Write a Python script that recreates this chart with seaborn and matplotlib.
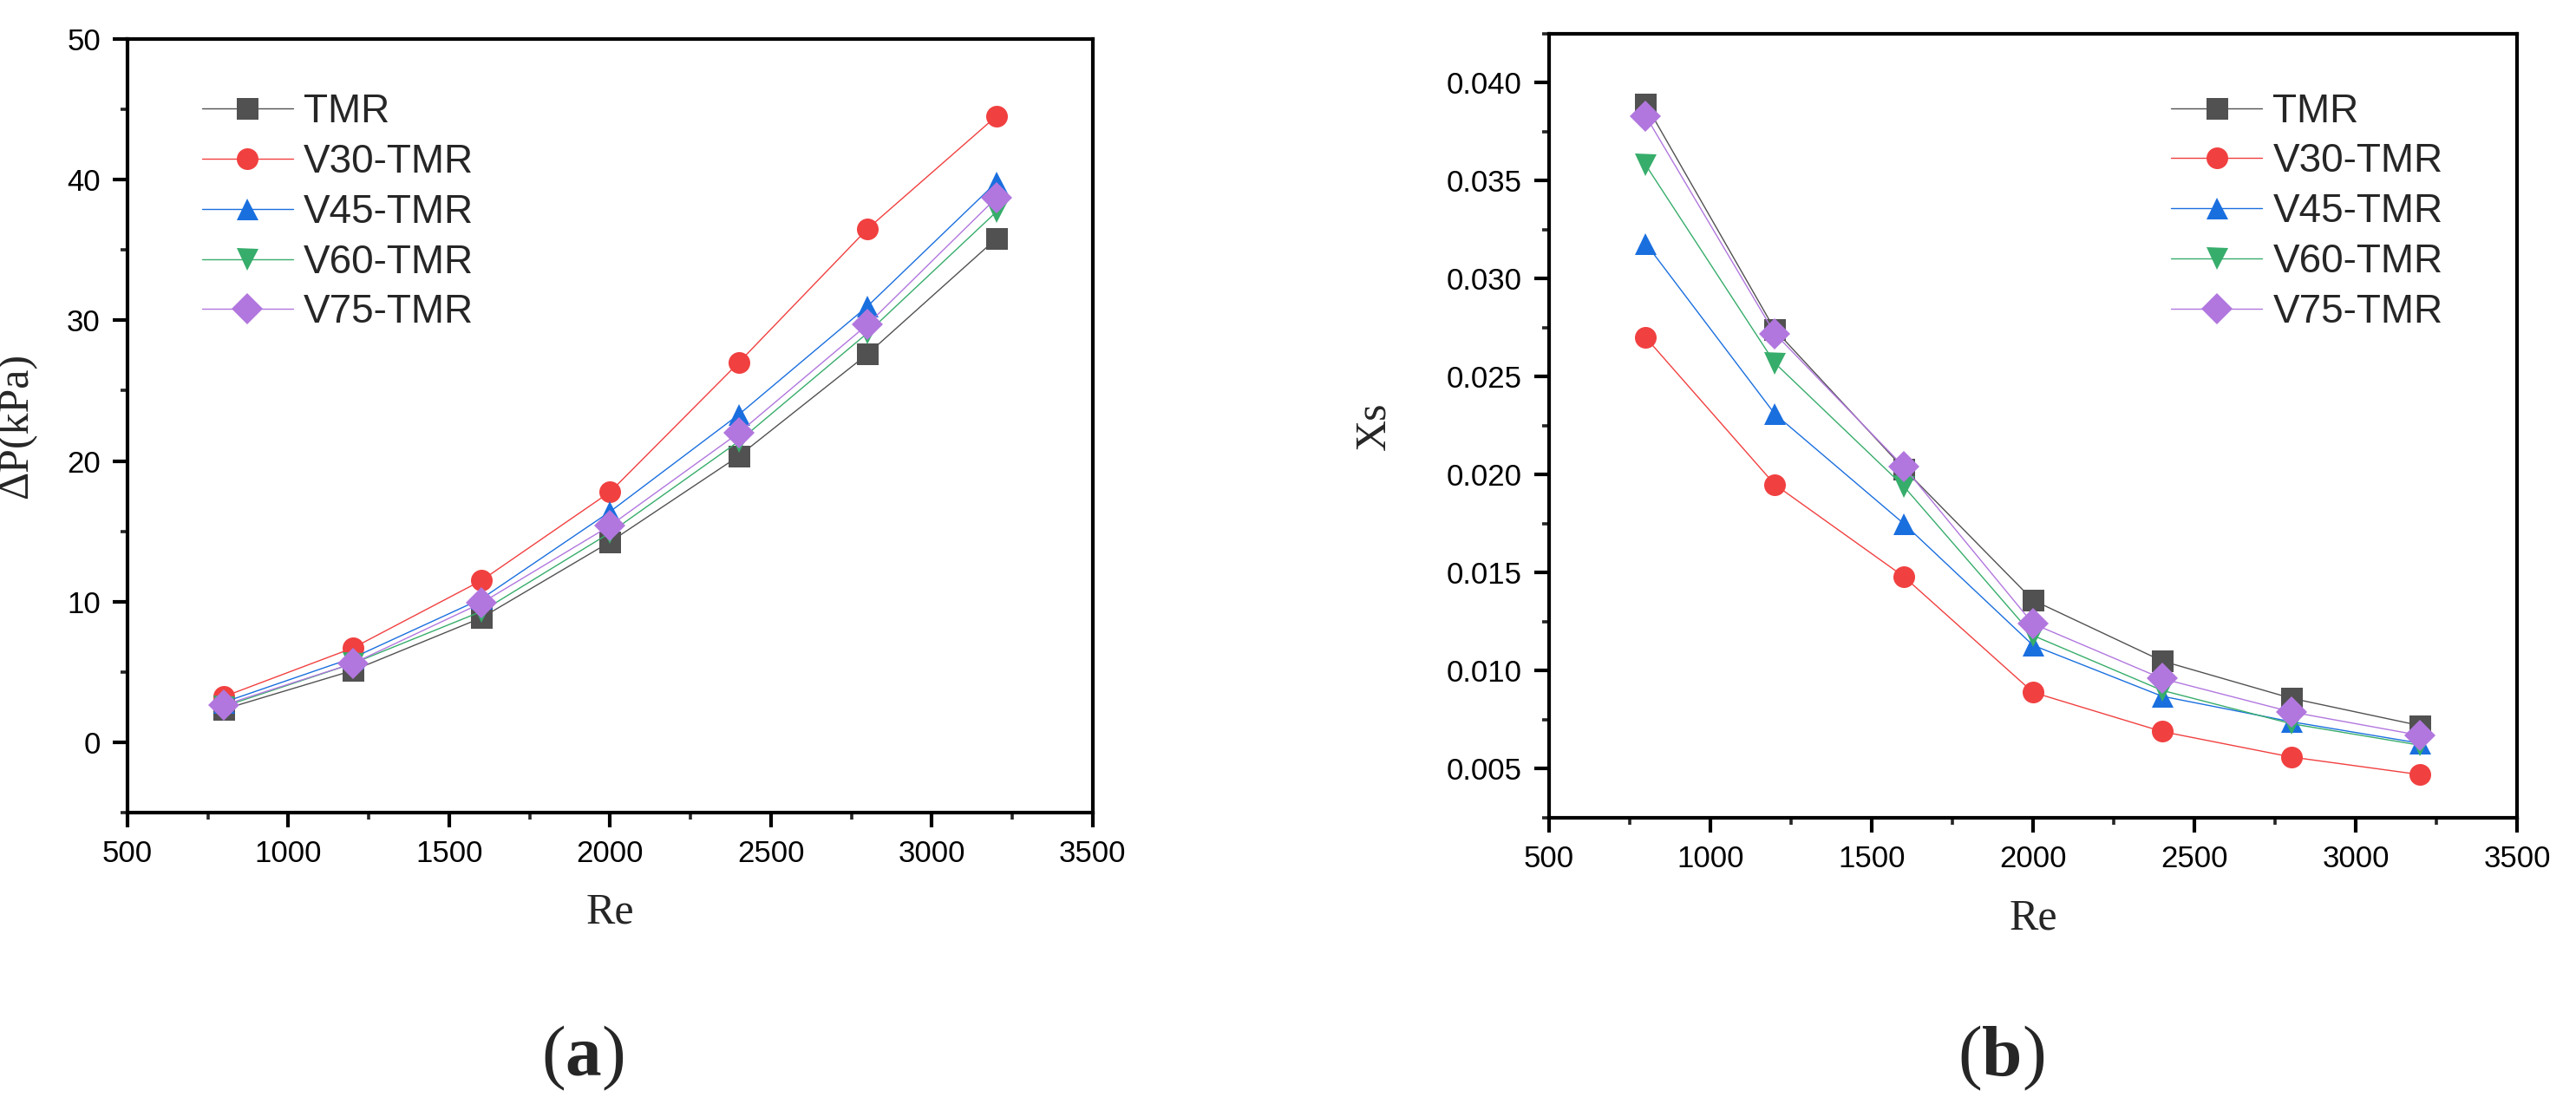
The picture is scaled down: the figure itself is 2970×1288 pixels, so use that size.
import numpy as np
import pandas as pd
import matplotlib
matplotlib.use("Agg")
import matplotlib.pyplot as plt
from matplotlib.ticker import MultipleLocator, FormatStrFormatter
import seaborn as sns

# ---------- Data ----------
re_vals = [800, 1200, 1600, 2000, 2400, 2800, 3200]
series = ['TMR', 'V30-TMR', 'V45-TMR', 'V60-TMR', 'V75-TMR']

dp_tmr = [2.35, 5.1, 8.85, 14.25, 20.35, 27.6, 35.8]
dp_v30 = [3.25, 6.7, 11.5, 17.8, 27.0, 36.5, 44.5]
dp_v45 = [2.85, 6.0, 10.2, 16.4, 23.3, 31.0, 39.8]
dp_v60 = [2.55, 5.6, 9.3, 14.9, 21.4, 29.1, 37.7]
dp_v75 = [2.65, 5.6, 9.9, 15.4, 22.0, 29.7, 38.7]

xs_tmr = [0.0389, 0.0274, 0.0203, 0.0136, 0.0105, 0.0086, 0.0072]
xs_v30 = [0.0270, 0.0195, 0.0148, 0.0089, 0.0069, 0.0056, 0.0047]
xs_v45 = [0.0318, 0.0231, 0.0175, 0.0113, 0.0087, 0.0074, 0.0063]
xs_v60 = [0.0358, 0.0257, 0.0194, 0.0118, 0.0090, 0.0073, 0.0062]
xs_v75 = [0.0383, 0.0272, 0.0204, 0.0124, 0.0096, 0.0079, 0.0067]

colors = ['#515151', '#F14040', '#1A6FDF', '#37AD6B', '#B177DE']
markers = ['s', 'o', '^', 'v', 'D']
palette = dict(zip(series, colors))
marker_map = dict(zip(series, markers))


def to_long(cols):
    rows = []
    for name, vals in zip(series, cols):
        for r, v in zip(re_vals, vals):
            rows.append({'Re': r, 'val': v, 'case': name})
    return pd.DataFrame(rows)


df_dp = to_long([dp_tmr, dp_v30, dp_v45, dp_v60, dp_v75])
df_xs = to_long([xs_tmr, xs_v30, xs_v45, xs_v60, xs_v75])

# ---------- Style ----------
sns.set_style("ticks")
plt.rcParams['font.family'] = ['Liberation Sans', 'DejaVu Sans']
plt.rcParams['mathtext.fontset'] = 'custom'
plt.rcParams['mathtext.rm'] = 'Liberation Serif'
plt.rcParams['mathtext.bf'] = 'Liberation Serif:bold'

DPI = 200
fig = plt.figure(figsize=(2970 / DPI, 1288 / DPI), dpi=DPI)
ax1 = fig.add_axes([0.0495, 0.2725, 0.3747, 0.6926])
ax2 = fig.add_axes([0.6013, 0.2679, 0.3758, 0.7019])

serif = 'Liberation Serif'


def draw(ax, df, ylim, ymaj, ymin, ylabel, ylab_x, leg_anchor):
    sns.lineplot(data=df, x='Re', y='val', hue='case', style='case',
                 palette=palette, markers=marker_map, dashes=False,
                 markersize=9, markeredgewidth=0, linewidth=0.5,
                 ax=ax, legend=True)
    ax.set_xlim(500, 3500)
    ax.set_ylim(*ylim)
    ax.xaxis.set_major_locator(MultipleLocator(500))
    ax.xaxis.set_minor_locator(MultipleLocator(250))
    ax.yaxis.set_major_locator(MultipleLocator(ymaj))
    ax.yaxis.set_minor_locator(MultipleLocator(ymin))
    for s in ax.spines.values():
        s.set_linewidth(1.5)
        s.set_color('black')
    ax.tick_params(which='major', direction='out', length=6.2, width=1.5,
                   labelsize=12.5, pad=5, colors='black')
    ax.tick_params(which='minor', direction='out', length=3, width=1.3)
    ax.set_xlabel('Re', fontsize=18, family=serif)
    ax.set_ylabel(ylabel, fontsize=18, family=serif)
    ax.xaxis.set_label_coords(0.5, -0.103)
    ax.yaxis.set_label_coords(ylab_x, 0.5)
    handles, labels = ax.get_legend_handles_labels()
    ax.legend(handles, labels, loc='upper left', bbox_to_anchor=leg_anchor,
              frameon=False, fontsize=16.5, handlelength=2.3,
              handletextpad=0.26, labelspacing=0.3, borderpad=0,
              borderaxespad=0)


draw(ax1, df_dp, (-5, 50), 10, 5, 'ΔP(kPa)', -0.094, (0.077, 0.93))
draw(ax2, df_xs, (0.0025, 0.0425), 0.005, 0.0025, 'Xs', -0.16, (0.6425, 0.925))
ax2.yaxis.set_major_formatter(FormatStrFormatter('%.3f'))

fig.text(672 / 2970, 1 - 1220 / 1288, r'$\mathrm{(}\mathbf{a}\mathrm{)}$',
         fontsize=30, ha='center', va='center')
fig.text(2307 / 2970, 1 - 1220 / 1288, r'$\mathrm{(}\mathbf{b}\mathrm{)}$',
         fontsize=30, ha='center', va='center')

plt.savefig('out.png', dpi=DPI)
